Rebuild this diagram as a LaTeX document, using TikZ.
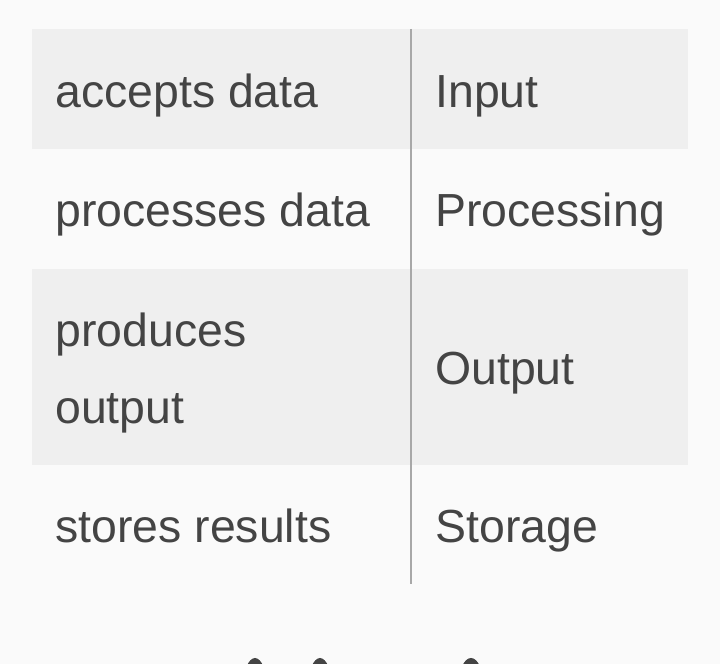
\documentclass[tikz,border=0pt]{standalone}
\usepackage{fontspec}
\setmainfont{Liberation Sans}
\definecolor{bgc}{HTML}{FAFAFA}
\definecolor{rowc}{HTML}{EFEFEF}
\definecolor{linec}{HTML}{A8A8A8}
\definecolor{txtc}{HTML}{444444}
\begin{document}
\begin{tikzpicture}[x=0.5pt,y=-0.5pt,
  cell/.style={anchor=base west,inner sep=0pt,text=txtc,font=\fontsize{23.2}{30}\selectfont},
  band/.style={fill=rowc}]
\fill[bgc] (0,0) rectangle (720,664);
\useasboundingbox (0,0) rectangle (720,664);
\fill[band] (32,29) rectangle (688,149);
\fill[band] (32,269) rectangle (688,465);
\coordinate (ltop) at (411,29);
\coordinate (lbot) at (411,584);
\draw[linec,line width=0.75pt] (ltop) -- (lbot);
\node[cell] (a1) at (55,107) {accepts data};
\node[cell] (b1) at (435,107) {Input};
\node[cell] (a2) at (55,227) {processes data};
\node[cell] (b2) at (435,227) {Processing};
\node[cell] (a3) at (55,347) {produces};
\node[cell] (a3b) at (55,423) {output};
\node[cell] (b3) at (435,385) {Output};
\node[cell] (a4) at (55,543) {stores results};
\node[cell] (b4) at (435,543) {Storage};
\fill[txtc] (255,688) ellipse [x radius=12, y radius=30];
\fill[txtc] (320,688) ellipse [x radius=12, y radius=30];
\fill[txtc] (471,688) ellipse [x radius=13, y radius=30];
\end{tikzpicture}
\end{document}
